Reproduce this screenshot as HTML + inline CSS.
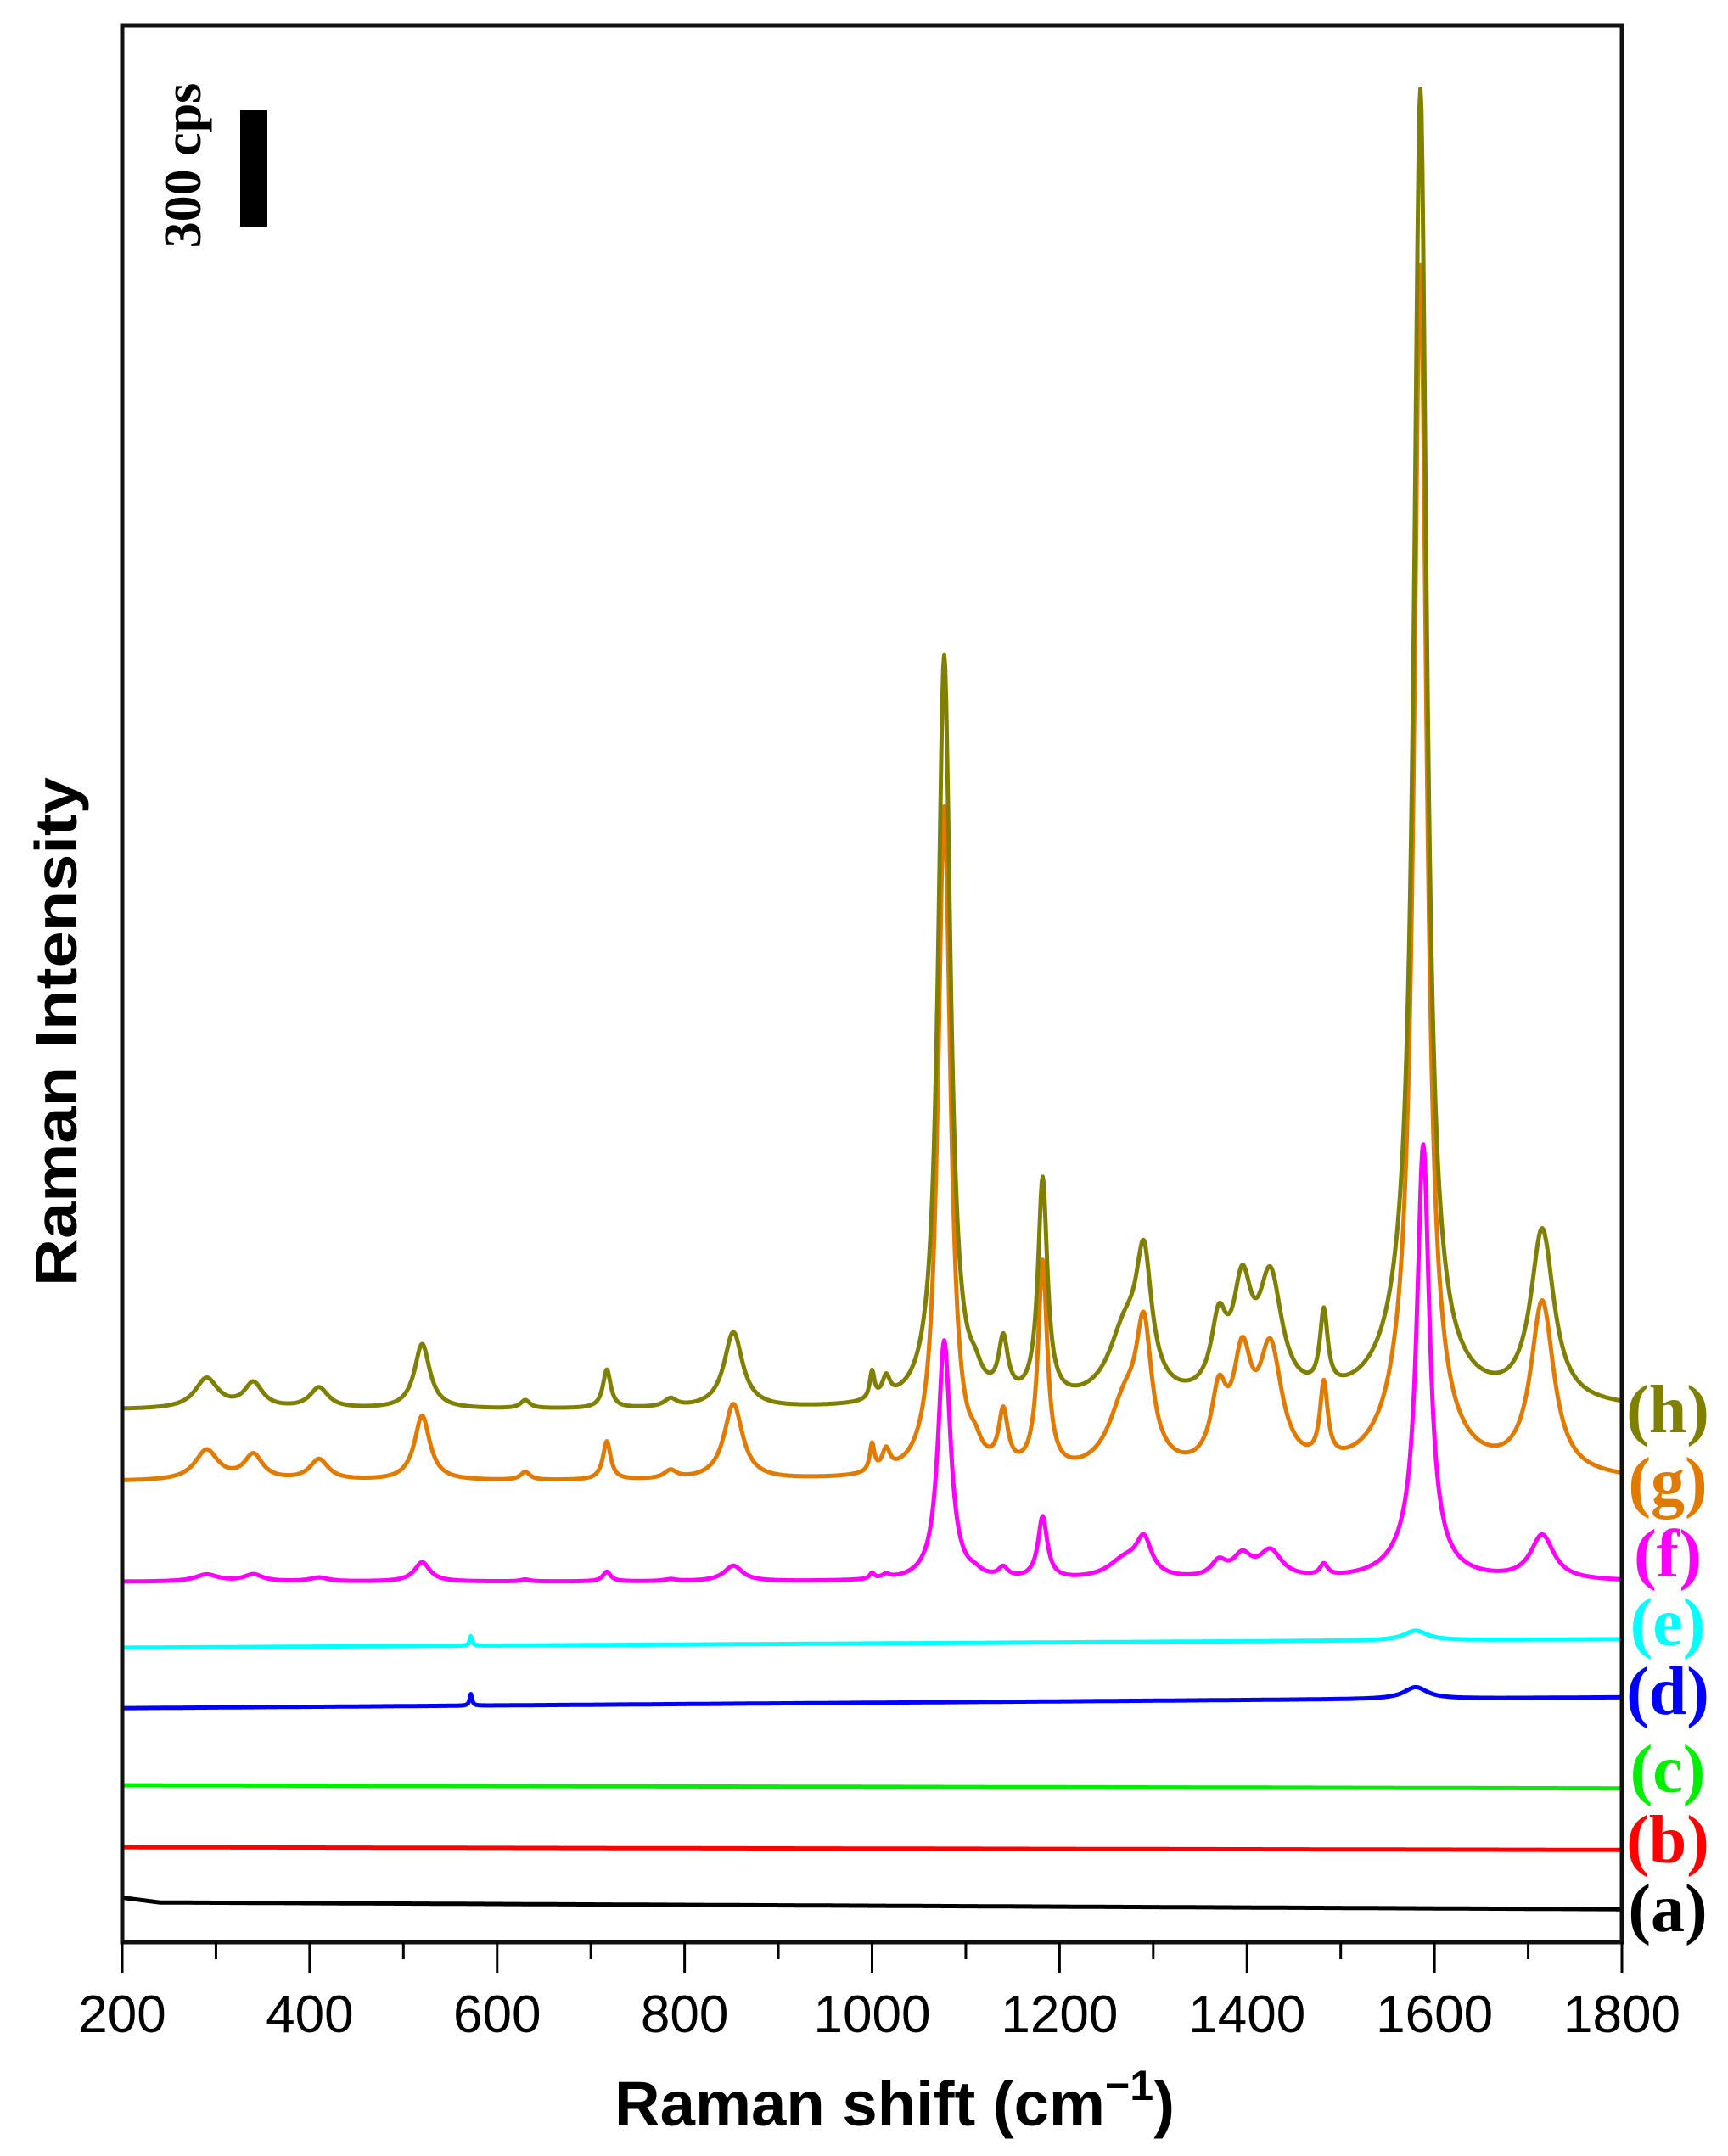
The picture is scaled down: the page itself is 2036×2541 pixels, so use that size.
<!DOCTYPE html>
<html><head><meta charset="utf-8"><style>
html,body{margin:0;padding:0;background:#fff;}
svg{display:block;}
</style></head><body>
<svg id="chart" width="2036" height="2541" viewBox="0 0 2036 2541" xmlns="http://www.w3.org/2000/svg">
<rect x="0" y="0" width="2036" height="2541" fill="#fff"/>
<g id="series"></g>
<rect x="144" y="30" width="1767" height="2259" fill="none" stroke="#111" stroke-width="5"/>
<g id="ticks"></g>
<g id="labels"></g>
<rect x="283" y="130" width="32" height="137" fill="#000"/>
<text transform="translate(236,195) rotate(-90)" text-anchor="middle" font-family="Liberation Serif, serif" font-weight="bold" font-size="62">300 cps</text>
<text transform="translate(90,1216) rotate(-90)" text-anchor="middle" font-family="Liberation Sans, sans-serif" font-weight="bold" font-size="70" textLength="600" lengthAdjust="spacingAndGlyphs">Raman Intensity</text>
<text x="1054" y="2505" text-anchor="middle" font-family="Liberation Sans, sans-serif" font-weight="bold" font-size="74" textLength="660" lengthAdjust="spacingAndGlyphs">Raman shift (cm<tspan dy="-30" font-size="50">−1</tspan><tspan dy="30">)</tspan></text>
</svg>
<script>
const xTicks = [200,400,600,800,1000,1200,1400,1600,1800];
const minorTicks = [300,500,700,900,1100,1300,1500,1700];
const seriesNames = ['a','b','c','d','e','f','g','h'];
const seriesColors = ['#000000','#ff0000','#00ee00','#0000ff','#00ffff','#ff00ff','#e07b00','#808000'];
const leftLevel = [103,245,405,604,760,930,1189,1374];
const rightLevel = [85,238,397,632,782,930,1189,1374];
const peakCenters = [290,340,410,520,630,717,785,852,1000,1015,1077,1110,1140,1182,1270,1290,1370,1395,1425,1482,1580,1585,1715];
const peakWidths =  [15,12,12,10,6,5,8,12,3,5,8,8,6,6,22,10,10,12,15,5,30,8,15];
const ampH = [78,64,53,167,21,99,21,195,71,53,1935,36,142,568,178,320,178,266,302,195,213,3190,444];
const ampG = [78,64,53,167,21,99,21,195,71,53,1730,36,142,540,178,320,178,266,302,195,213,2920,444];
const ampF = [18,18,10,50,5,25,5,40,15,10,620,10,25,160,50,90,40,55,70,30,60,1070,115];
const spikeCenters = [572,1580];
const spikeWidths = [1.5,15];
const spikeD = [30,30];
const spikeE = [25,25];

const X0=200,X1=1800,PX0=144,PX1=1911,YZ=2289,PPC=137/300;
function xs(v){return PX0+(v-X0)*(PX1-PX0)/(X1-X0);}
function ys(v){return YZ-v*PPC;}
function lor(x,c,w){return w*w/((x-c)*(x-c)+w*w);}

const ns='http://www.w3.org/2000/svg';
const g=document.getElementById('series');
for(let s=0;s<8;s++){
  let d='';
  for(let x=X0;x<=X1;x+=1){
    let v=leftLevel[s]+(rightLevel[s]-leftLevel[s])*(x-X0)/(X1-X0);
    if(s===7||s===6||s===5){
      const amp=s===7?ampH:(s===6?ampG:ampF);
      for(let k=0;k<peakCenters.length;k++){
        const c=(s===5&&k===21)?1588:peakCenters[k];
        v+=amp[k]*lor(x,c,peakWidths[k]);
      }
    } else if(s===3||s===4){
      const amp=s===3?spikeD:spikeE;
      for(let k=0;k<spikeCenters.length;k++) v+=amp[k]*lor(x,spikeCenters[k],spikeWidths[k]);
    } else if(s===0){
      if(x<240) v+=12*(240-x)/40;
    }
    d+=(x===X0?'M':'L')+xs(x).toFixed(1)+','+ys(v).toFixed(1);
  }
  const p=document.createElementNS(ns,'path');
  p.setAttribute('d',d);p.setAttribute('fill','none');
  p.setAttribute('stroke',seriesColors[s]);p.setAttribute('stroke-width','5');
  p.setAttribute('stroke-linejoin','round');
  
  
  g.appendChild(p);
}
const labelY=[2250,2169,2086,1994,1913,1832,1747,1662];
const lg=document.getElementById('labels');
for(let s=0;s<8;s++){
  const t=document.createElementNS(ns,'text');
  t.setAttribute('x','1965');t.setAttribute('y',String(labelY[s]+26));
  t.setAttribute('text-anchor','middle');
  t.setAttribute('font-family','Liberation Serif, serif');
  t.setAttribute('font-weight','bold');t.setAttribute('font-size','80');
  t.setAttribute('fill',seriesColors[s]);
  t.textContent='('+seriesNames[s]+')';
  
  
  lg.appendChild(t);
}
const tg=document.getElementById('ticks');
xTicks.forEach(v=>{
  const l=document.createElementNS(ns,'line');
  l.setAttribute('x1',xs(v));l.setAttribute('x2',xs(v));
  l.setAttribute('y1','2289');l.setAttribute('y2','2325');
  l.setAttribute('stroke','#000');l.setAttribute('stroke-width','3');
  
  
  tg.appendChild(l);
  const t=document.createElementNS(ns,'text');
  t.setAttribute('x',xs(v));t.setAttribute('y','2395');
  t.setAttribute('text-anchor','middle');
  t.setAttribute('font-family','Liberation Sans, sans-serif');
  t.setAttribute('font-size','62');
  t.textContent=String(v);
  
  
  tg.appendChild(t);
});
minorTicks.forEach(v=>{
  const l=document.createElementNS(ns,'line');
  l.setAttribute('x1',xs(v));l.setAttribute('x2',xs(v));
  l.setAttribute('y1','2289');l.setAttribute('y2','2309');
  l.setAttribute('stroke','#000');l.setAttribute('stroke-width','3');
  
  
  tg.appendChild(l);
});
</script>
</body></html>
